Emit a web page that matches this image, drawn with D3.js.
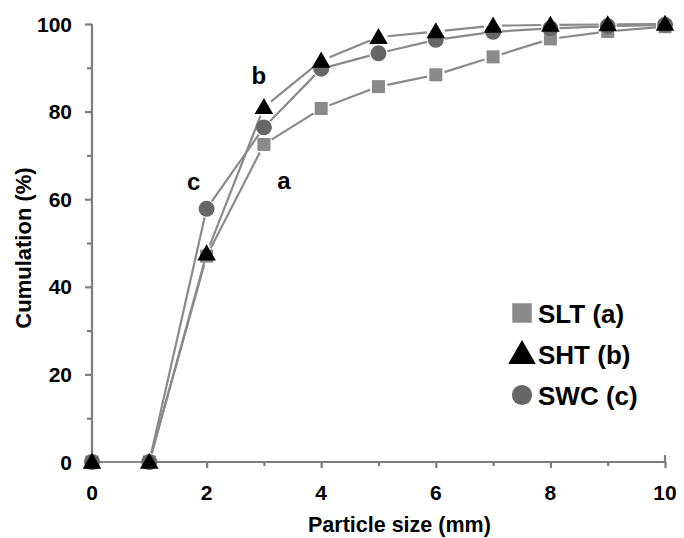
<!DOCTYPE html>
<html>
<head>
<meta charset="utf-8">
<script src="https://cdn.jsdelivr.net/npm/d3@7"></script>
<style>
  html, body { margin: 0; padding: 0; background: #fff; }
  svg { display: block; font-family: Arial, "Liberation Sans", sans-serif; }
</style>
</head>
<body>
<svg id="chart" width="684" height="538"></svg>
<script>
// Particle size classes (mm)
const sizes = [0, 1, 2, 3, 4, 5, 6, 7, 8, 9, 10];
// Cumulative passing (%) for each sample
const slt = [0, 0, 47, 72.5, 80.7, 85.7, 88.4, 92.5, 96.6, 98.3, 99.4];
const sht = [0, 0, 47.6, 81, 91.6, 97, 98.3, 99.6, 99.8, 99.9, 100];
const swc = [0, 0, 57.8, 76.4, 89.8, 93.3, 96.4, 98.2, 99, 99.5, 99.8];
const xTicks = [0, 2, 4, 6, 8, 10];
const yTicks = [0, 20, 40, 60, 80, 100];
const seriesNames = ["SLT (a)", "SHT (b)", "SWC (c)"];

const svg = d3.select("#chart");
const x = d3.scaleLinear().domain([0, 10]).range([92, 665]);
const y = d3.scaleLinear().domain([0, 100]).range([462, 24]);

const axisColor = "#7d7d7d";
const lineColor = "#8a8a8a";

// axes
const gx = svg.append("g").attr("transform", `translate(0,${y(0)})`)
  .call(d3.axisBottom(x).tickValues(d3.range(0, 11, 1)).tickSize(6).tickFormat(""));
gx.selectAll(".tick line").attr("y2", d => d % 2 === 0 ? 6 : 4);
gx.select(".domain").attr("d", `M${x(0)},0H${x(10)}V-7`);
const gy = svg.append("g").attr("transform", `translate(${x(0)},0)`)
  .call(d3.axisLeft(y).tickValues(d3.range(0, 101, 10)).tickSize(7).tickFormat(""));
gy.selectAll(".tick line").attr("x2", d => d % 20 === 0 ? -7 : -5);
gy.select(".domain").attr("d", `M0,${y(100)}V${y(0) + 5}`);
svg.selectAll(".domain, .tick line").attr("stroke", axisColor).attr("stroke-width", 2.2);

// tick labels
svg.append("g").selectAll("text").data(xTicks).join("text")
  .attr("x", d => x(d)).attr("y", 500)
  .attr("text-anchor", "middle").attr("font-size", 21).attr("font-weight", "bold")
  .text(d => d);
svg.append("g").selectAll("text").data(yTicks).join("text")
  .attr("x", 72).attr("y", d => y(d)).attr("dy", "0.36em")
  .attr("text-anchor", "end").attr("font-size", 21).attr("font-weight", "bold")
  .text(d => d);

// axis titles
svg.append("text")
  .attr("transform", "translate(31,248) rotate(-90)")
  .attr("text-anchor", "middle").attr("font-size", 22).attr("font-weight", "bold")
  .text("Cumulation (%)");
svg.append("text")
  .attr("x", 308).attr("y", 532)
  .attr("font-size", 21.5).attr("font-weight", "bold")
  .text("Particle size (mm)");

// connecting lines, trimmed short of each marker
const series = [
  { name: seriesNames[0], values: slt, shape: "square", fill: "#8a8a8a" },
  { name: seriesNames[1], values: sht, shape: "triangle", fill: "#000" },
  { name: seriesNames[2], values: swc, shape: "circle", fill: "#666" }
];
const gap = 9;
series.forEach(s => {
  const pts = sizes.map((v, i) => [x(v), y(s.values[i])]);
  const segs = d3.pairs(pts).map(([a, b]) => {
    const dx = b[0] - a[0], dy = b[1] - a[1], len = Math.hypot(dx, dy);
    if (len <= 2 * gap) return null;
    const ux = dx / len, uy = dy / len;
    return [[a[0] + ux * gap, a[1] + uy * gap], [b[0] - ux * gap, b[1] - uy * gap]];
  }).filter(Boolean);
  svg.append("g").selectAll("path").data(segs).join("path")
    .attr("d", d => d3.line()(d))
    .attr("fill", "none").attr("stroke", lineColor).attr("stroke-width", 2.2);
});

// markers
const symbolFor = {
  square: d3.symbol(d3.symbolSquare, 170),
  triangle: d3.symbol(d3.symbolTriangle, 150),
  circle: d3.symbol(d3.symbolCircle, 200)
};
[series[0], series[2], series[1]].forEach(s => {
  svg.append("g").selectAll("path").data(sizes).join("path")
    .attr("transform", (d, i) => `translate(${x(d)},${y(s.values[i]) + (s.shape === "triangle" ? 1.5 : 0)})`)
    .attr("d", symbolFor[s.shape]())
    .attr("fill", s.fill);
});

// point labels
const labelStyle = t => t.attr("font-size", 24).attr("font-weight", "bold").attr("text-anchor", "middle");
svg.append("text").attr("x", x(3) + 20).attr("y", y(slt[3]) + 45).call(labelStyle).text("a");
svg.append("text").attr("x", x(3) - 5).attr("y", y(sht[3]) - 23).call(labelStyle).text("b");
svg.append("text").attr("x", x(2) - 13).attr("y", y(swc[2]) - 19).call(labelStyle).text("c");

// legend
const legend = svg.append("g").attr("transform", "translate(522,313)");
const legendSym = {
  square: d3.symbol(d3.symbolSquare, 380),
  triangle: d3.symbol(d3.symbolTriangle, 330),
  circle: d3.symbol(d3.symbolCircle, 320)
};
series.forEach((s, i) => {
  const row = legend.append("g").attr("transform", `translate(0,${i * 41})`);
  row.append("path")
    .attr("transform", s.shape === "triangle" ? "translate(0,2)" : null)
    .attr("d", legendSym[s.shape]()).attr("fill", s.fill);
  row.append("text").attr("x", 16).attr("y", 10)
    .attr("font-size", 26).attr("font-weight", "bold").text(s.name);
});
</script>
</body>
</html>
